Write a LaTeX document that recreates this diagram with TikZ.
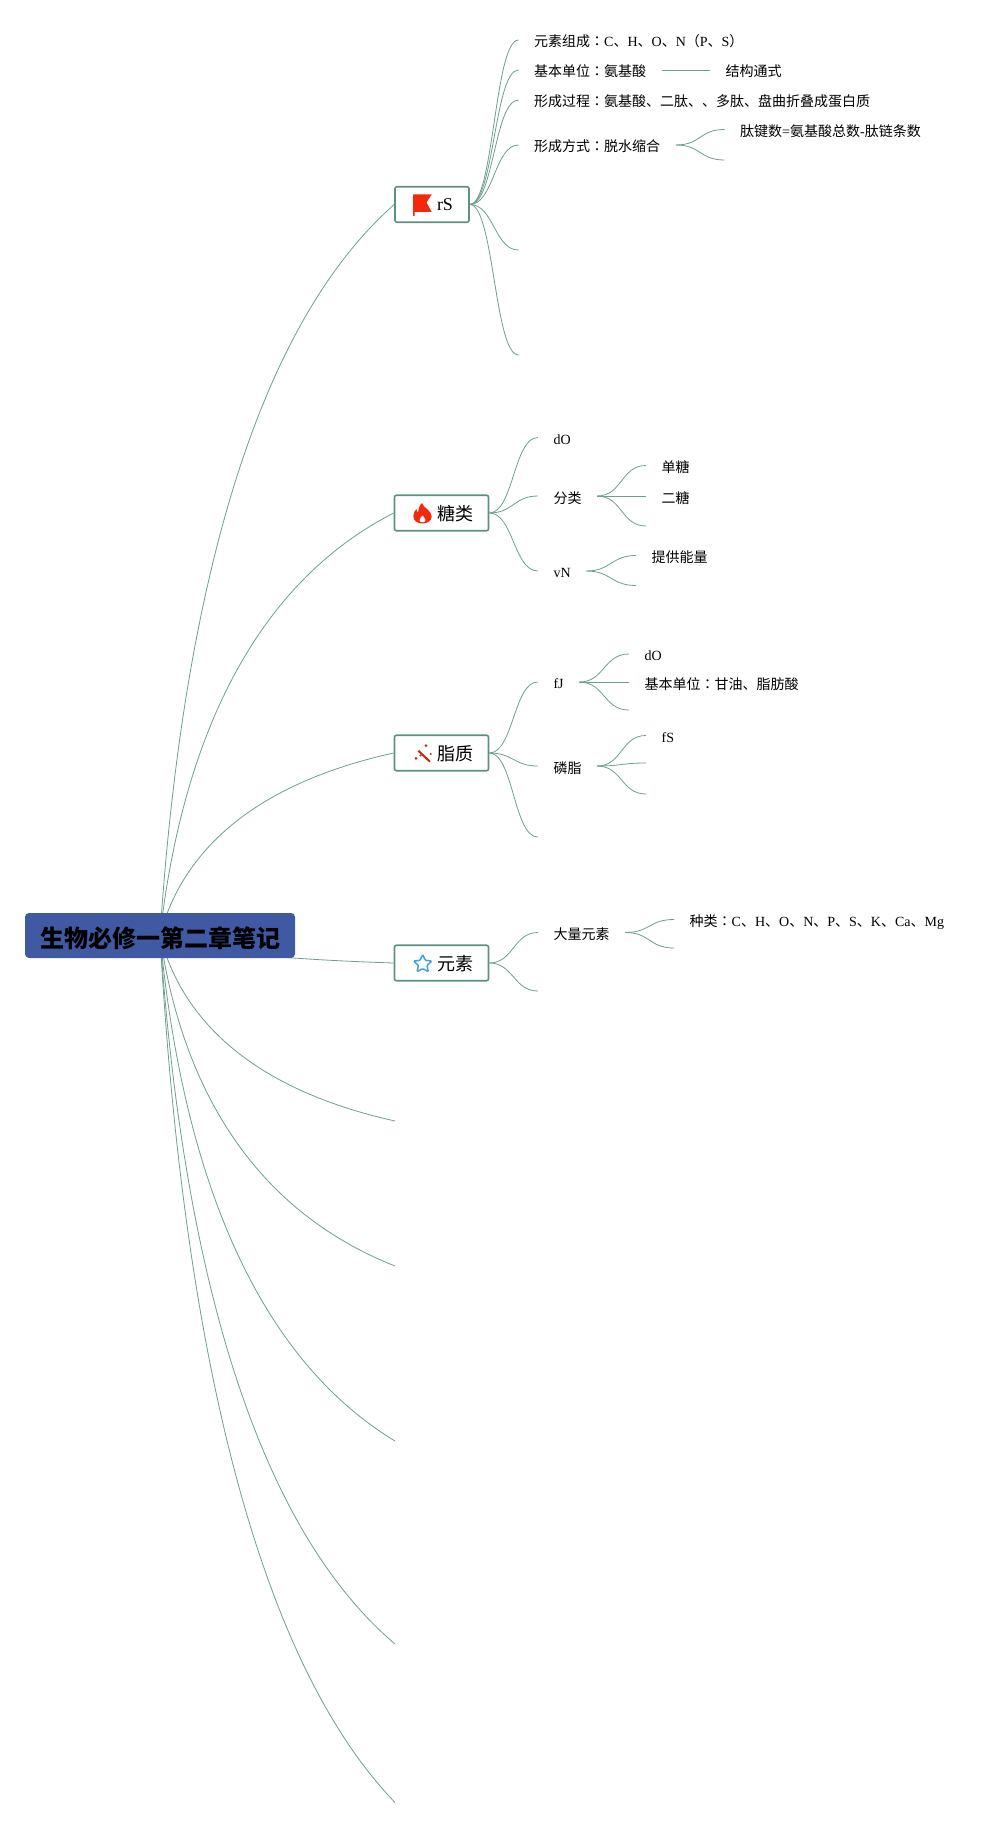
\documentclass[tikz,border=0pt]{standalone}
\usepackage{fontspec}
\setmainfont{Liberation Serif}
\newfontfamily\cjkfont{Noto Sans CJK SC}
\newfontfamily\colonfont{Noto Sans CJK JP}
\usetikzlibrary{backgrounds,shapes.geometric}
\newcommand{\zh}[1]{{\cjkfont #1}}
\newcommand{\cln}{{\colonfont ：}}
\definecolor{linegreen}{HTML}{6E9F8E}
\definecolor{boxgreen}{HTML}{5B9180}
\definecolor{rootblue}{HTML}{4059A3}
\definecolor{iconred}{HTML}{F3290C}
\definecolor{iconblue}{HTML}{3FA3E2}
\tikzset{
  rootTopic/.style={fill=rootblue,rounded corners=4pt,minimum width=270pt,minimum height=45pt,inner sep=0pt,text height=24pt,text depth=0pt,font=\fontsize{24}{28}\selectfont\cjkfont\bfseries},
  mainTopic/.style={draw=boxgreen,fill=white,line width=1.6pt,rounded corners=2pt,minimum height=35.5pt,inner sep=0pt,text height=15pt,text depth=0pt,font=\fontsize{18}{21}\selectfont},
  subTopic/.style={anchor=west,inner xsep=15.5pt,inner ysep=0pt,text height=14pt,text depth=0pt,font=\fontsize{14}{16}\selectfont},
  latinTopic/.style={subTopic,text height=13pt},
  trunk/.style={draw=linegreen,line width=0.8pt},
  twig/.style={draw=linegreen,line width=0.8pt},
}
\begin{document}
\begin{tikzpicture}[x=1pt,y=-1pt]
\useasboundingbox (0,0) rectangle (1004,1827);
% topics
\node[rootTopic] (root) at (160,935.5) {生物必修一第二章笔记};
\node[mainTopic,minimum width=74pt] (rS) at (432,204.5) {\hspace*{26pt}\raisebox{1.5pt}{rS}};
\node[mainTopic,minimum width=94pt] (tang) at (441.5,513) {\hspace*{28pt}\zh{糖类}};
\node[mainTopic,minimum width=94pt] (zhi) at (441.5,753) {\hspace*{28pt}\zh{脂质}};
\node[mainTopic,minimum width=94pt] (yuan) at (441.5,963) {\hspace*{28pt}\zh{元素}};
% rS branch
\node[subTopic] (elem) at (518.5,40) {\zh{元素组成}\cln C\zh{、}H\zh{、}O\zh{、}N\zh{（}P\zh{、}S\zh{）}};
\node[subTopic] (unit) at (518.5,70) {\zh{基本单位}\cln\zh{氨基酸}};
\node[subTopic] (form) at (518.5,100) {\zh{形成过程}\cln\zh{氨基酸、二肽、、多肽、盘曲折叠成蛋白质}};
\node[subTopic] (mode) at (518.5,145) {\zh{形成方式}\cln\zh{脱水缩合}};
\node[subTopic] (struct) at (710,70) {\zh{结构通式}};
\node[subTopic] (bond) at (724.5,129.5) {\zh{肽键数}=\zh{氨基酸总数}-\zh{肽链条数}};
\coordinate (modeB) at (724.5,160);
\coordinate (rSe) at (518.5,250);
\coordinate (rSf) at (518.5,355);
% tang branch
\node[latinTopic] (tangO) at (537.8,437.5) {dO};
\node[subTopic] (kind) at (537.8,496) {\zh{分类}};
\node[latinTopic] (tangN) at (537.8,571) {vN};
\node[subTopic] (mono) at (646,465.5) {\zh{单糖}};
\node[subTopic] (di) at (646,496) {\zh{二糖}};
\coordinate (kindC) at (646,526);
\node[subTopic] (energy) at (636,555.5) {\zh{提供能量}};
\coordinate (tangNB) at (636,585.5);
% zhi branch
\node[latinTopic] (fJ) at (537.8,682) {fJ};
\node[subTopic] (phos) at (537.8,766) {\zh{磷脂}};
\coordinate (zhiC) at (537.8,837);
\node[latinTopic] (fjO) at (628.8,654) {dO};
\node[subTopic] (fjUnit) at (628.8,682) {\zh{基本单位}\cln\zh{甘油、脂肪酸}};
\coordinate (fJC) at (628.8,710);
\node[latinTopic] (fS) at (646,735.5) {fS};
\coordinate (phosB) at (646,763);
\coordinate (phosC) at (646,794);
% yuan branch
\node[subTopic] (major) at (537.8,932.5) {\zh{大量元素}};
\coordinate (yuanB) at (537.8,991);
\node[subTopic] (types) at (674,919.5) {\zh{种类}\cln C\zh{、}H\zh{、}O\zh{、}N\zh{、}P\zh{、}S\zh{、}K\zh{、}Ca\zh{、}Mg};
\coordinate (majorB) at (674,948);
% ends of the empty topics
\coordinate (emptyA) at (395,1121);
\coordinate (emptyB) at (395,1266);
\coordinate (emptyC) at (395,1441);
\coordinate (emptyD) at (395,1644);
\coordinate (emptyE) at (395,1802.5);
\begin{scope}[on background layer]
\foreach \t/\ty in {rS.west/204.5,tang.west/513,zhi.west/753,yuan.west/963,emptyA/1121,emptyB/1266,emptyC/1441,emptyD/1644,emptyE/1802.5}{
  \pgfmathsetmacro{\ca}{935.5+0.377*(\ty-935.5)}
  \pgfmathsetmacro{\cb}{935.5+0.808*(\ty-935.5)}
  \draw[trunk] (root.center) .. controls (178,\ca) and (235,\cb) .. (\t);
}
\foreach \a/\b in {rS/elem.west,rS/unit.west,rS/form.west,rS/mode.west,rS/rSe,rS/rSf,
    tang/tangO.west,tang/kind.west,tang/tangN.west,zhi/fJ.west,zhi/phos.west,zhi/zhiC,yuan/major.west,yuan/yuanB}
  \draw[twig] (\a.east) .. controls +(24,0) and +(-24,0) .. (\b);
\foreach \a/\b in {mode/bond.west,mode/modeB,kind/mono.west,kind/di.west,kind/kindC,tangN/energy.west,tangN/tangNB,
    fJ/fjO.west,fJ/fjUnit.west,fJ/fJC,phos/fS.west,phos/phosB,phos/phosC,major/types.west,major/majorB}
  \draw[twig] (\a.east) .. controls +(25,0) and +(-25,0) .. (\b);
\draw[twig] (unit) -- (struct);
\end{scope}
% icons
\fill[iconred] (413,194.5) -- (431.7,194.5) -- (426.5,202.5) -- (431.7,212) -- (414.5,212) -- (414.5,216) -- (413,216) -- cycle;
\fill[iconred] (422,503) .. controls (423,508) and (431.7,510) .. (431.7,516.5)
  .. controls (431.7,521) and (427,523.5) .. (422.5,523.5)
  .. controls (417.5,523.5) and (413.3,521) .. (413.3,516)
  .. controls (413.3,513) and (415,510.5) .. (416.5,509)
  .. controls (416.5,511) and (417,512) .. (418,512.5)
  .. controls (418.5,509) and (419,505.5) .. (422,503) -- cycle;
\fill[white] (422.5,515.5) .. controls (423,517) and (425.5,518) .. (425.5,520)
  .. controls (425.5,521.5) and (424,522.3) .. (422.5,522.3)
  .. controls (421,522.3) and (419.5,521.5) .. (419.5,520)
  .. controls (419.5,518) and (422,517) .. (422.5,515.5) -- cycle;
\draw[iconred!85!black,line width=2pt] (418.3,750.7) -- (430,761.7);
\foreach \dx/\dy/\r in {426/745.7/1.5,430.7/754/1.1,416/758.3/1.5,420.5/755.5/1.1}
  \fill[iconred!85!black] (\dx,\dy) circle (\r);
\node[star,star points=5,star point ratio=2.1,draw=iconblue,line width=1.5pt,rounded corners=1pt,minimum size=19pt,inner sep=0pt] (starIcon) at (422.7,964) {};
\end{tikzpicture}
\end{document}
